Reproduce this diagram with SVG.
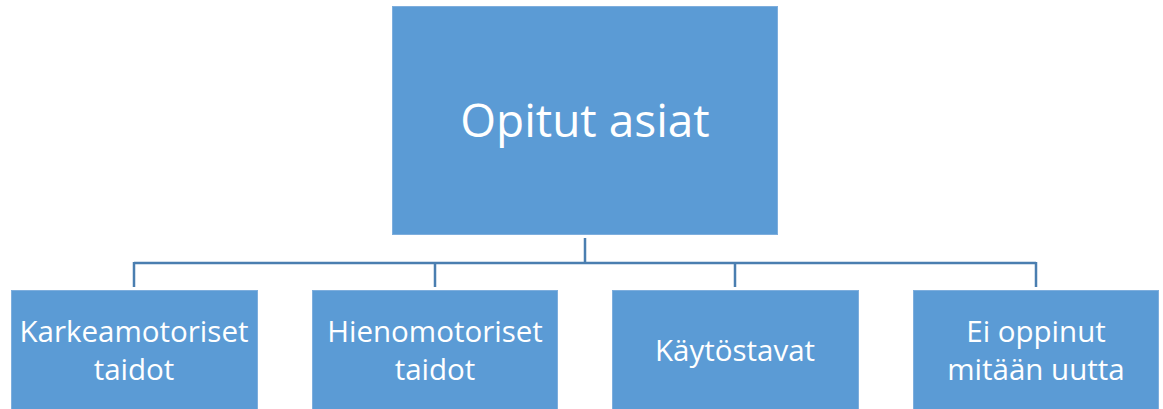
<svg xmlns="http://www.w3.org/2000/svg" width="1163" height="409" viewBox="0 0 1163 409">
<style>
.box{fill:#5B9BD5;stroke:#7EAEDD;stroke-width:1}
.t{fill:#FFFFFF;font-family:"Open Sans","Liberation Sans",sans-serif;text-anchor:middle}
.big{font-size:46px}
.sm{font-size:29.5px}
.c{fill:none;stroke:#4A7EB0;stroke-width:2.5}
</style>
<rect width="1163" height="409" fill="#FFFFFF"/>
<g id="connectors">
<path class="c" d="M585 238V263M134 263H1036M134 262V287M435 262V287M735 262V287M1036 262V287"/>
</g>
<g id="node-root">
<rect class="box" x="392.5" y="6.5" width="385" height="228"/>
<text class="t big" x="585" y="137">Opitut asiat</text>
</g>
<g id="node-1">
<rect class="box" x="11.5" y="290.5" width="246" height="125"/>
<text class="t sm" x="134" y="342">Karkeamotoriset</text>
<text class="t sm" x="134" y="380">taidot</text>
</g>
<g id="node-2">
<rect class="box" x="312.5" y="290.5" width="245" height="125"/>
<text class="t sm" x="435" y="342">Hienomotoriset</text>
<text class="t sm" x="435" y="380">taidot</text>
</g>
<g id="node-3">
<rect class="box" x="612.5" y="290.5" width="246" height="125"/>
<text class="t sm" x="735" y="361">Käytöstavat</text>
</g>
<g id="node-4">
<rect class="box" x="913.5" y="290.5" width="245" height="125"/>
<text class="t sm" x="1036" y="342">Ei oppinut</text>
<text class="t sm" x="1036" y="380">mitään uutta</text>
</g>
</svg>
